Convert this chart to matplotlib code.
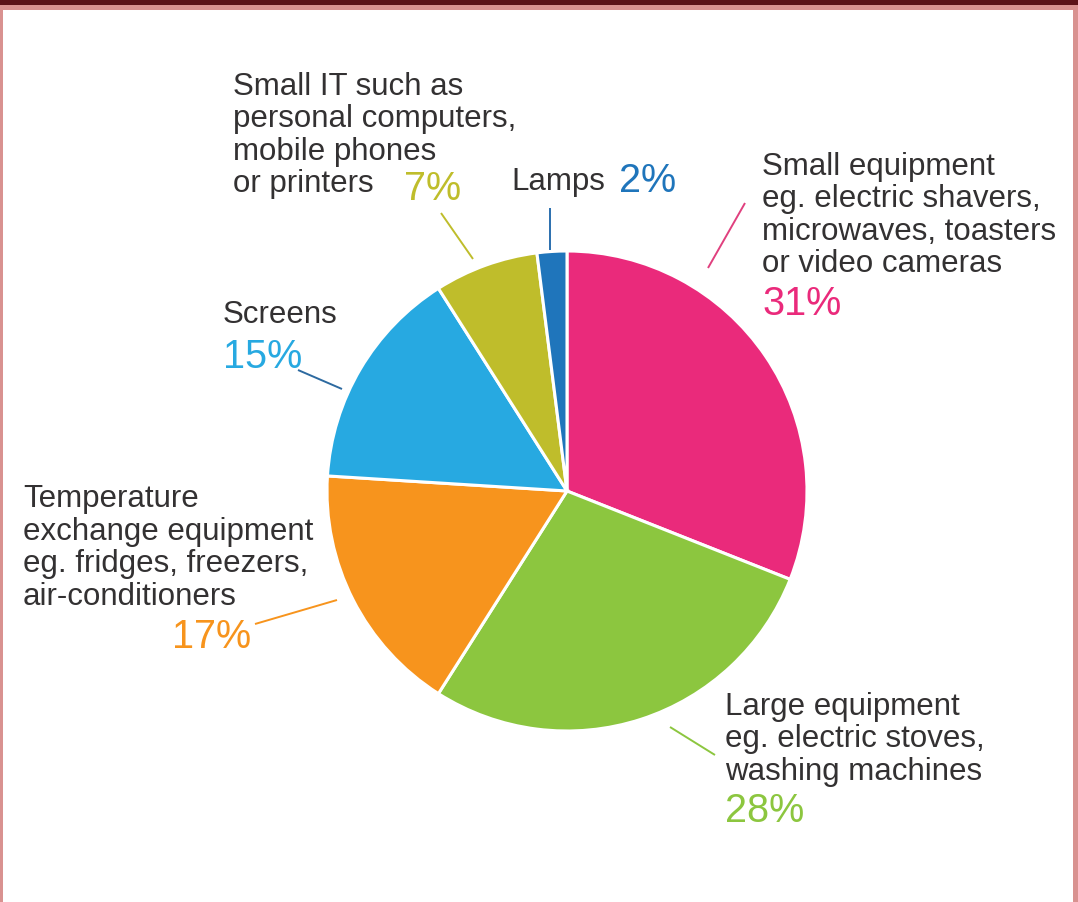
import matplotlib
matplotlib.use("Agg")
import matplotlib.pyplot as plt
from matplotlib.patches import Rectangle

# Share of e-waste by equipment category (percent)
categories = ["Small equipment", "Large equipment", "Temperature exchange equipment",
              "Screens", "Small IT", "Lamps"]
shares = [31, 28, 17, 15, 7, 2]
colors = ["#ea2a7b", "#8cc63f", "#f7941d", "#27a9e1", "#bfbd2b", "#1f75bb"]

label_lines = [
    ["Small equipment", "eg. electric shavers,", "microwaves, toasters", "or video cameras"],
    ["Large equipment", "eg. electric stoves,", "washing machines"],
    ["Temperature", "exchange equipment", "eg. fridges, freezers,", "air-conditioners"],
    ["Screens"],
    ["Small IT such as", "personal computers,", "mobile phones", "or printers"],
    ["Lamps"],
]
leader_colors = ["#e0407e", "#8cc63f", "#f7941d", "#2d6aa0", "#bfbd2b", "#2a6fae"]

W, H = 1078, 902
fig = plt.figure(figsize=(W / 100, H / 100), dpi=100)
ax = fig.add_axes([0, 0, 1, 1])

def py(y):
    # pixel row (from top) to data y
    return H - y

ax.pie(shares, colors=colors, startangle=90, counterclock=False,
       center=(567, py(491)), radius=240,
       wedgeprops=dict(edgecolor="white", linewidth=2.2))
ax.set_xlim(0, W)
ax.set_ylim(0, H)
ax.set_aspect("equal")
ax.axis("off")

text_color = "#333132"
font = "Liberation Sans"
label_size = 22.5
pct_size = 28.5

# label block layout: (x, first baseline, line step, pct x, pct baseline)
layout = [
    (762, 175, 32.5, 762, 315),
    (725, 715, 32.5, 725, 822),
    (23, 507, 32.7, 172, 648),
    (223, 323, 32.5, 223, 368),
    (233, 95, 32.4, 404, 200),
    (511, 190, 32.5, 619, 192),
]
leaders = [
    ((745, 203), (708, 268)),
    ((670, 727), (715, 755)),
    ((255, 624), (337, 600)),
    ((298, 370), (342, 389)),
    ((441, 213), (473, 259)),
    ((550, 208), (550, 250)),
]

for lines, share, col, lcol, (x, y0, dy, px, pyb), (p0, p1) in zip(
        label_lines, shares, colors, leader_colors, layout, leaders):
    for i, line in enumerate(lines):
        ax.text(x, py(y0 + i * dy), line, ha="left", va="baseline",
                fontsize=label_size, color=text_color, family=font)
    ax.text(px, py(pyb), f"{share}%", ha="left", va="baseline",
            fontsize=pct_size, color=col, family=font)
    ax.plot([p0[0], p1[0]], [py(p0[1]), py(p1[1])], color=lcol, lw=1.4,
            solid_capstyle="butt")

# frame bands
pink = "#d99290"
ax.add_patch(Rectangle((0, py(5)), W, 5, color="#5c1318", lw=0, clip_on=False))
ax.add_patch(Rectangle((0, py(10)), W, 5, color=pink, lw=0, clip_on=False))
ax.add_patch(Rectangle((0, 0), 3, H - 5, color=pink, lw=0, clip_on=False))
ax.add_patch(Rectangle((W - 5, 0), 5, H - 5, color=pink, lw=0, clip_on=False))

fig.savefig("out.png", dpi=100, facecolor="white")
